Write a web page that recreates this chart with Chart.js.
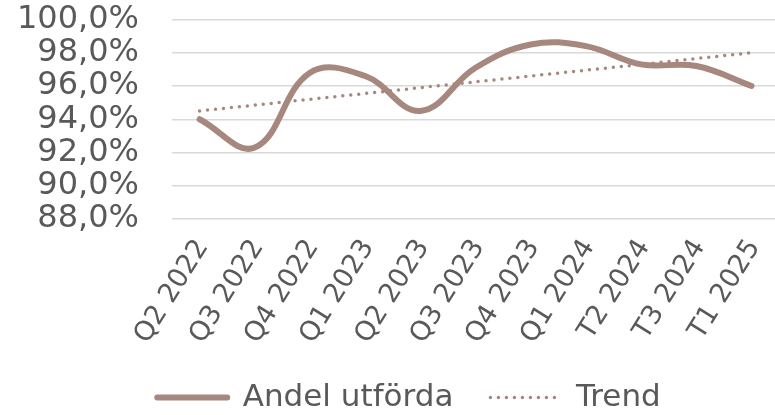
<!DOCTYPE html>
<html>
<head>
<meta charset="utf-8">
<script src="https://cdn.jsdelivr.net/npm/chart.js@4/dist/chart.umd.min.js"></script>
<style>
  html, body { margin: 0; padding: 0; background: #fff; overflow: hidden; }
  #wrap { position: absolute; left: 0; top: 0; width: 786px; height: 423px; }
</style>
</head>
<body>
<div id="wrap"><canvas id="lineChart"></canvas></div>
<script>
const categories = ['Q2 2022', 'Q3 2022', 'Q4 2022', 'Q1 2023', 'Q2 2023', 'Q3 2023', 'Q4 2023', 'Q1 2024', 'T2 2024', 'T3 2024', 'T1 2025'];
const andelUtforda = [94.0, 92.3, 96.8, 96.6, 94.5, 97.1, 98.5, 98.4, 97.3, 97.2, 96.0];
const trend = [94.5, 94.85, 95.2, 95.55, 95.9, 96.25, 96.6, 96.95, 97.3, 97.65, 98.0];
const yMin = 88, yMax = 100, yStep = 2;

const brown = '#a6887e';
const textGray = '#595959';
const fontY = { family: 'DejaVu Sans', size: 32 };
const fontX = { family: 'DejaVu Sans', size: 27 };
const fontLegend = { family: 'DejaVu Sans', size: 31 };

// legend sits a bit right of centre in the original
const shiftLegend = {
  id: 'shiftLegend',
  afterLayout(chart) {
    chart.legend.left += 16;
    chart.legend.right += 16;
  }
};

new Chart(document.getElementById('lineChart'), {
  type: 'line',
  data: {
    labels: categories,
    datasets: [
      {
        label: 'Andel utförda',
        data: andelUtforda,
        borderColor: brown,
        backgroundColor: brown,
        borderWidth: 6,
        borderCapStyle: 'round',
        tension: 0.4,
        pointRadius: 0
      },
      {
        label: 'Trend',
        data: trend,
        borderColor: brown,
        backgroundColor: brown,
        borderWidth: 3.5,
        borderDash: [0, 8],
        borderCapStyle: 'round',
        tension: 0,
        pointRadius: 0
      }
    ]
  },
  plugins: [shiftLegend],
  options: {
    responsive: true,
    maintainAspectRatio: false,
    devicePixelRatio: 1,
    animation: false,
    layout: { padding: { top: 19.5, left: 0, right: 0, bottom: 0 } },
    plugins: {
      tooltip: { enabled: false },
      legend: {
        position: 'bottom',
        labels: {
          color: textGray,
          font: fontLegend,
          usePointStyle: true,
          pointStyleWidth: 70,
          boxWidth: 70,
          padding: 37,
          generateLabels: chart => chart.data.datasets.map((ds, i) => ({
            text: ds.label,
            datasetIndex: i,
            fillStyle: ds.borderColor,
            strokeStyle: ds.borderColor,
            fontColor: textGray,
            lineWidth: ds.borderWidth,
            lineDash: ds.borderDash || [],
            lineCap: 'round',
            pointStyle: 'line',
            hidden: false
          }))
        }
      }
    },
    scales: {
      x: {
        offset: true,
        grid: { display: false },
        border: { display: false },
        ticks: {
          color: textGray,
          font: fontX,
          minRotation: 58,
          maxRotation: 58,
          autoSkip: false,
          padding: 7,
          labelOffset: 3
        },
        afterFit: scale => { scale.height = 126; }
      },
      y: {
        min: yMin,
        max: yMax,
        grid: {
          color: '#d9d9d9',
          lineWidth: 1.5,
          drawTicks: true,
          tickLength: 33,
          tickColor: 'rgba(0,0,0,0)'
        },
        border: { display: false },
        ticks: {
          stepSize: yStep,
          autoSkip: false,
          color: textGray,
          font: fontY,
          padding: 0,
          callback: v => v.toFixed(1).replace('.', ',') + '%'
        },
        afterFit: scale => { scale.width = 172; }
      }
    }
  }
});
</script>
</body>
</html>
